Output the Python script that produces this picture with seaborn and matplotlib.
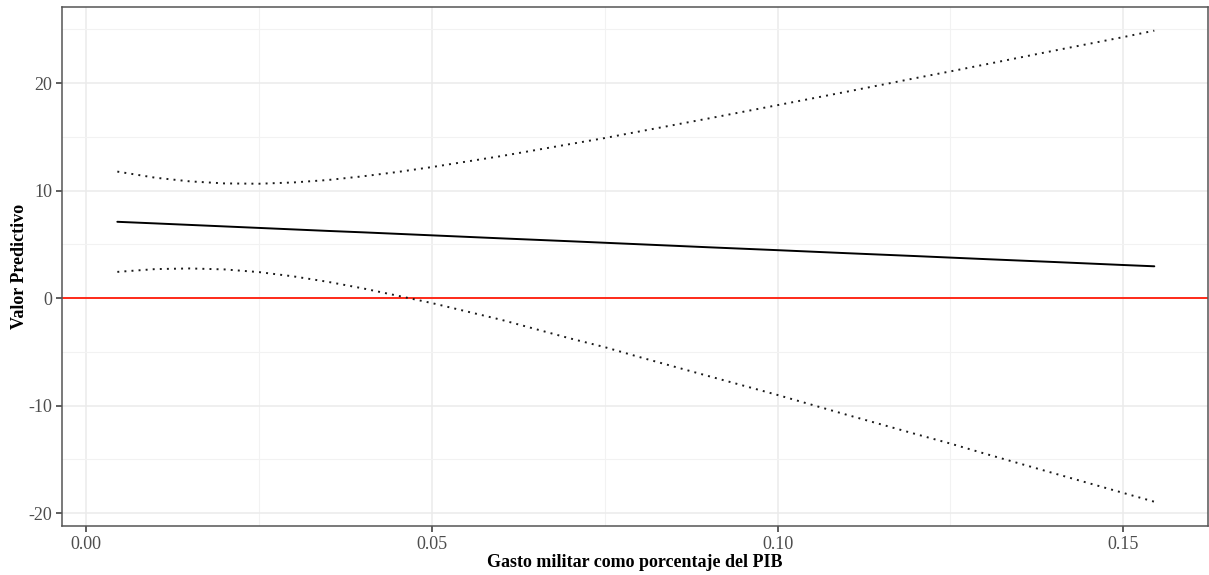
import matplotlib
matplotlib.use("Agg")
import matplotlib.pyplot as plt
from matplotlib.ticker import MultipleLocator
import seaborn as sns
import pandas as pd

# Military spending share of GDP (x) and predicted value with its bounds
gasto = [0.0045, 0.01, 0.015, 0.02, 0.025, 0.03, 0.035, 0.04, 0.045, 0.05,
         0.06, 0.07, 0.075, 0.08, 0.09, 0.10, 0.11, 0.12, 0.125, 0.13,
         0.14, 0.15, 0.1545]
prediccion = [7.11, 6.96, 6.82, 6.68, 6.54, 6.40, 6.26, 6.13, 5.99, 5.85,
              5.57, 5.30, 5.16, 5.02, 4.74, 4.47, 4.19, 3.92, 3.78, 3.64,
              3.37, 3.09, 2.97]
limite_sup = [11.78, 11.21, 10.87, 10.68, 10.65, 10.77, 11.00, 11.34, 11.74, 12.20,
              13.22, 14.34, 14.90, 15.51, 16.72, 17.96, 19.21, 20.48, 21.10, 21.74,
              23.03, 24.29, 24.89]
limite_inf = [2.45, 2.71, 2.77, 2.68, 2.43, 2.03, 1.52, 0.92, 0.24, -0.45,
              -2.00, -3.74, -4.55, -5.47, -7.24, -9.00, -10.84, -12.64, -13.52, -14.46,
              -16.29, -18.11, -18.93]

x_ticks = [0.00, 0.05, 0.10, 0.15]
x_tick_labels = ["0.00", "0.05", "0.10", "0.15"]
y_ticks = [-20, -10, 0, 10, 20]
y_tick_labels = ["-20", "-10", "0", "10", "20"]

df = pd.DataFrame({"gasto": gasto, "pred": prediccion,
                   "sup": limite_sup, "inf": limite_inf})

sns.set_theme(style="white")
plt.rcParams["font.family"] = ["Liberation Serif", "DejaVu Serif"]

fig = plt.figure(figsize=(12.09, 5.75), dpi=100)
ax = fig.add_axes([0.0513, 0.085, 0.9475, 0.903])

# grid: major and minor lines in light grey
ax.set_xlim(-0.0035, 0.1622)
ax.set_ylim(-21.2, 27.1)
ax.xaxis.set_major_locator(MultipleLocator(0.05))
ax.xaxis.set_minor_locator(MultipleLocator(0.025))
ax.yaxis.set_major_locator(MultipleLocator(10))
ax.yaxis.set_minor_locator(MultipleLocator(5))
ax.grid(which="major", color="#EBEBEB", linewidth=1.1, zorder=0)
ax.grid(which="minor", color="#F2F2F2", linewidth=0.8, zorder=0)
ax.set_axisbelow(True)

ax.axhline(0, color="#FF2A1A", linewidth=1.4, zorder=2)

dotted = (0, (1, 2.65))
sns.lineplot(data=df, x="gasto", y="pred", color="black", linewidth=1.4,
             ax=ax, zorder=3)
sns.lineplot(data=df, x="gasto", y="sup", color="#1a1a1a", linewidth=1.4,
             linestyle=dotted, ax=ax, zorder=3)
sns.lineplot(data=df, x="gasto", y="inf", color="#1a1a1a", linewidth=1.4,
             linestyle=dotted, ax=ax, zorder=3)

ax.set_xticks(x_ticks)
ax.set_xticklabels(x_tick_labels)
ax.set_yticks(y_ticks)
ax.set_yticklabels(y_tick_labels)
ax.tick_params(axis="both", which="major", length=4, width=1.1,
               color="#333333", labelcolor="#4D4D4D", labelsize=13, pad=3,
               bottom=True, left=True)
ax.tick_params(axis="both", which="minor", length=0)

for s in ax.spines.values():
    s.set_color("#555555")
    s.set_linewidth(1.1)
    s.set_visible(True)

ax.set_xlabel("Gasto militar como porcentaje del PIB", fontsize=13,
              fontweight="bold", color="black", labelpad=1)
ax.set_ylabel("Valor Predictivo", fontsize=13, fontweight="bold",
              color="black")
ax.yaxis.set_label_coords(-0.03, 0.5)

fig.savefig("out.png", dpi=100)
